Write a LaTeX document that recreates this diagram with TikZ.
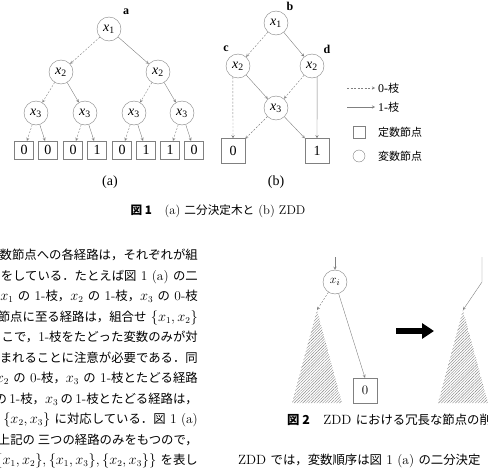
\documentclass[tikz,border=0pt]{standalone}
\usepackage{fontspec}
\usepackage{tikz}
\usetikzlibrary{arrows.meta,patterns.meta,positioning,calc}
\newfontfamily\jpfont[Scale=0.924]{Noto Sans CJK JP}
\newfontfamily\figfont{Liberation Serif}
\newcommand{\jp}[1]{{\jpfont #1}}
\newcommand{\fx}[1]{\textit{x}\textsubscript{#1}}
\newcommand{\ks}{\hspace{0.18em}}

\begin{document}
\begin{tikzpicture}[
    x=1pt, y=-1pt,
    vnode/.style={circle, draw=gray, minimum size=24pt, inner sep=0pt, font=\figfont\fontsize{14}{14}\selectfont},
    cnode/.style={rectangle, draw=gray, minimum width=19pt, minimum height=18pt, inner sep=0pt, font=\figfont\fontsize{14}{14}\selectfont},
    zcnode/.style={cnode, minimum width=24pt, minimum height=25pt},
    inode/.style={circle, draw=gray, minimum size=24pt, inner sep=0pt, font=\fontsize{13}{13}\selectfont},
    lbl/.style={font=\figfont\bfseries\fontsize{12}{12}\selectfont},
    legtext/.style={anchor=west, inner sep=0pt, font=\figfont\fontsize{11.9}{12}\selectfont},
    zero/.style={->, >=stealth, gray, dash pattern=on 2pt off 1.5pt},
    one/.style={->, >=stealth, gray},
    bigarrow/.style={-{Triangle[length=12pt,width=15pt]}, line width=6pt},
    hatch/.style={pattern={Lines[angle=45,distance=2pt,line width=0.4pt]}, pattern color=gray},
    bodyline/.style={anchor=base east, inner sep=0pt, font=\fontsize{13.4}{15}\selectfont},
    bodyleft/.style={anchor=base west, inner sep=0pt, font=\fontsize{13.4}{15}\selectfont}
]
\useasboundingbox (0,0) rectangle (488,471);
\clip (0,0) rectangle (488,471);

\node[vnode] (a1) at (109,29) {\fx{1}};
\node[lbl] (la) at (126,12) {a};
\node[vnode] (a2l) at (61,72) {\fx{2}};
\node[vnode] (a2r) at (158,72) {\fx{2}};
\node[vnode] (a3a) at (36,113) {\fx{3}};
\node[vnode] (a3b) at (85,113) {\fx{3}};
\node[vnode] (a3c) at (134,113) {\fx{3}};
\node[vnode] (a3d) at (182,113) {\fx{3}};
\node[cnode] (aleaf1) at (24,150) {0};
\node[cnode] (aleaf2) at (48,150) {0};
\node[cnode] (aleaf3) at (73,150) {0};
\node[cnode] (aleaf4) at (97,150) {1};
\node[cnode] (aleaf5) at (122,150) {0};
\node[cnode] (aleaf6) at (146,150) {1};
\node[cnode] (aleaf7) at (170,150) {1};
\node[cnode] (aleaf8) at (194,150) {0};

\draw[zero] (a1) -- (a2l);
\draw[one] (a1) -- (a2r);
\draw[zero] (a2l) -- (a3a);
\draw[one] (a2l) -- (a3b);
\draw[zero] (a2r) -- (a3c);
\draw[one] (a2r) -- (a3d);
\draw[zero] (a3a) -- (aleaf1);
\draw[one] (a3a) -- (aleaf2);
\draw[zero] (a3b) -- (aleaf3);
\draw[one] (a3b) -- (aleaf4);
\draw[zero] (a3c) -- (aleaf5);
\draw[one] (a3c) -- (aleaf6);
\draw[zero] (a3d) -- (aleaf7);
\draw[one] (a3d) -- (aleaf8);
\node[font=\figfont\fontsize{14}{14}\selectfont] (capa) at (110,182) {(a)};

\node[vnode] (b1) at (276,23) {\fx{1}};
\node[lbl] (lb) at (290,6) {b};
\node[vnode] (b2l) at (238,66) {\fx{2}};
\node[lbl] (lc) at (226,49) {c};
\node[vnode] (b2r) at (312,66) {\fx{2}};
\node[lbl] (ld) at (327,49) {d};
\node[vnode] (b3) at (276,108) {\fx{3}};
\node[zcnode] (bz) at (233,151) {0};
\node[zcnode] (bo) at (317,151) {1};

\draw[zero] (b1) -- (b2l);
\draw[one] (b1) -- (b2r);
\draw[zero] (b2l.-115) -- (bz.north);
\draw[one] (b2l) -- (b3);
\draw[zero] (b2r) -- (b3);
\draw[one] (b2r.-65) -- (bo.north);
\draw[zero] (b3) -- (bz);
\draw[one] (b3) -- (bo);
\node[font=\figfont\fontsize{14}{14}\selectfont] (capb) at (276,182) {(b)};

\coordinate (l0s) at (347,88);
\coordinate (l0e) at (375,88);
\coordinate (l1s) at (347,107);
\coordinate (l1e) at (375,107);
\draw[zero] (l0s) -- (l0e);
\draw[one] (l1s) -- (l1e);
\node[legtext] (l0t) at (378,88) {0-\jp{枝}};
\node[legtext] (l1t) at (378,107) {1-\jp{枝}};
\node[rectangle, draw=gray, minimum size=12pt, inner sep=0pt] (lbox) at (359,132) {};
\node[legtext] (lboxt) at (378,132) {\jp{定数節点}};
\node[circle, draw=gray, minimum size=12pt, inner sep=0pt] (lcirc) at (359,156) {};
\node[legtext] (lcirct) at (378,156) {\jp{変数節点}};

\node[anchor=base, inner sep=0pt, font=\fontsize{12.6}{14}\selectfont] (cap1) at (218,214) {{\jpfont\bfseries 図 1}\quad (a) \jp{二分決定木と} (b) ZDD};

\coordinate (xin) at (335,257);
\node[inode] (xi) at (335,282) {$x_i$};
\coordinate (tl) at (317,310);
\fill[hatch] (tl) -- (292,403) -- (342,403) -- cycle;
\node[rectangle, draw=gray, minimum width=24pt, minimum height=25pt, inner sep=0pt, font=\fontsize{13}{13}\selectfont] (z0) at (365,390.5) {0};
\draw[one] (xin) -- (xi);
\draw[zero] (xi) -- (tl);
\draw[one] (xi) -- (z0.north);
\coordinate (ba) at (396,331);
\coordinate (bb) at (434,331);
\draw[bigarrow] (ba) -- (bb);
\coordinate (rin) at (482,257);
\coordinate (rbend) at (482,282);
\coordinate (tr) at (463,310);
\fill[hatch] (tr) -- (438,403) -- (488,403) -- cycle;
\draw[one] (rin) -- (rbend) -- (tr);

\node[bodyleft] (cap2) at (287,424) {{\jpfont\bfseries 図 2}\quad ZDD \jp{における冗長な節点の削除}};

\node[bodyline] (t1) at (198,259.5) {\jp{数節点への各経路は，それぞれが組}};
\node[bodyline] (t2) at (198,280) {\jp{をしている．たとえば図} 1 (a) \jp{の二}};
\node[bodyline] (t3) at (198,300.5) {$x_1$ \jp{の} 1-\jp{枝，}$x_2$ \jp{の} 1-\jp{枝，}$x_3$ \jp{の} 0-\jp{枝}};
\node[bodyline] (t4) at (198,321) {\jp{節点に至る経路は，組合せ} $\{x_1,x_2\}$};
\node[bodyline] (t5) at (198,341.5) {\jp{こで，}1-\jp{枝をたどった変数のみが対}};
\node[bodyline] (t6) at (198,362) {\jp{まれることに注意が必要である．同}};
\node[bodyline] (t7) at (198,382.5) {$x_2$ \jp{の} 0-\jp{枝，}$x_3$ \jp{の} 1-\jp{枝とたどる経路}};
\node[bodyline] (t8) at (198,403) {\jp{の}\ks 1-\jp{枝，}$x_3$\ks\jp{の}\ks 1-\jp{枝とたどる経路は，}};
\node[bodyline] (t9) at (198,423.5) {$\{x_2,x_3\}$ \jp{に対応している．図} 1 (a)};
\node[bodyline] (t10) at (198,444) {\jp{上記の 三つの経路のみをもつので，}};
\node[bodyline] (t11) at (198,464.5) {$\{\{x_1,x_2\},\{x_1,x_3\},\{x_2,x_3\}\}$ \jp{を表し}};
\node[bodyleft] (t12) at (238,464.5) {ZDD \jp{では，変数順序は図} 1 (a) \jp{の二分決定}};
\end{tikzpicture}
\end{document}
